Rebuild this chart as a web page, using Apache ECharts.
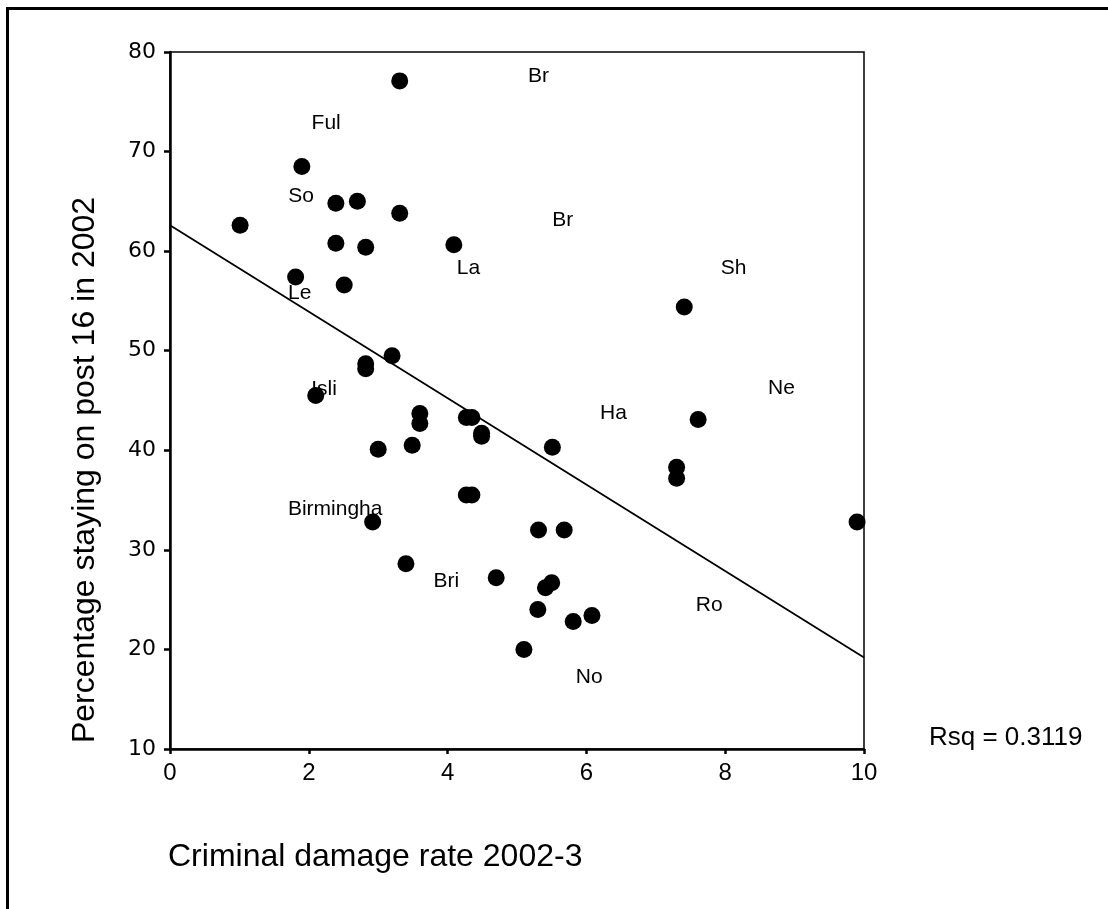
<!DOCTYPE html>
<html>
<head>
<meta charset="utf-8">
<script src="https://cdn.jsdelivr.net/npm/echarts@6/dist/echarts.min.js"></script>
<style>
html,body{margin:0;padding:0;background:#fff;}
#chart{width:1108px;height:909px;}
</style>
</head>
<body>
<div id="chart"></div>
<script>
// Criminal damage rate 2002-3 (x) vs Percentage staying on post 16 in 2002 (y)
const crimeRate = [3.31,1.90,1.01,2.39,2.70,3.31,2.39,2.82,4.09,1.81,2.51,7.41,3.20,2.82,2.82,2.10,3.60,3.60,4.27,4.35,4.49,4.49,5.51,3.00,3.49,7.61,7.30,7.30,4.27,4.35,2.92,5.31,5.68,9.90,3.40,4.70,5.41,5.50,5.30,5.10,5.81,6.08];
const stayingOn = [77.1,68.5,62.6,64.8,65.0,63.8,60.8,60.4,60.65,57.4,56.6,54.4,49.5,48.7,48.2,45.5,43.7,42.7,43.3,43.3,41.7,41.4,40.3,40.1,40.5,43.1,38.3,37.2,35.5,35.5,32.8,32.0,32.0,32.8,28.6,27.2,26.2,26.7,24.0,20.0,22.8,23.4];

// Case labels (clipped in the original)
const labelText = ["Br","Ful","So","Br","La","Le","Sh","Isli","Ha","Ne","Sund","Birmingha","Bri","Ro","No"];
const labelX = [5.31,2.25,1.89,5.66,4.30,1.87,8.12,2.22,6.39,8.81,10.01,2.38,3.98,7.77,6.04];
const labelY = [77.6,72.8,65.55,63.1,58.3,55.8,58.3,46.1,43.7,46.2,36.6,34.1,26.9,24.4,17.2];

// Linear fit line endpoints
const fitX = [0, 10];
const fitY = [62.6, 19.2];
const rsqText = "Rsq = 0.3119";

const xTicks = [0,2,4,6,8,10];
const yTicks = [10,20,30,40,50,60,70,80];

const chart = echarts.init(document.getElementById('chart'));
const font = "Liberation Sans, Arial, sans-serif";

const option = {
  animation: false,
  backgroundColor: '#fff',
  grid: { left: 170, top: 52, right: 244, bottom: 160, show: true, borderColor: '#000', borderWidth: 1.5, backgroundColor: 'transparent' },
  xAxis: {
    type: 'value', min: xTicks[0], max: xTicks[xTicks.length-1], interval: 2,
    axisLine: { onZero: false, lineStyle: { color: '#000', width: 2.5 } },
    axisTick: { show: true, length: 5, lineStyle: { color: '#000', width: 2.5 } },
    axisLabel: { color: '#000', fontSize: 24, fontFamily: font, margin: 12 },
    splitLine: { show: false }
  },
  yAxis: {
    type: 'value', min: yTicks[0], max: yTicks[yTicks.length-1], interval: 10,
    axisLine: { onZero: false, lineStyle: { color: '#000', width: 2.5 } },
    axisTick: { show: true, length: 6, lineStyle: { color: '#000', width: 2.5 } },
    axisLabel: { color: '#000', fontSize: 22, fontFamily: "DejaVu Sans, sans-serif", margin: 14 },
    splitLine: { show: false }
  },
  series: [
    {
      type: 'scatter', silent: true, z: 1,
      symbolSize: 1, itemStyle: { color: 'rgba(0,0,0,0)', opacity: 1 },
      label: { show: true, position: 'inside', formatter: p => p.name, color: '#000', opacity: 1, fontSize: 21, fontFamily: font },
      data: labelText.map((t, i) => ({ name: t, value: [labelX[i], labelY[i]] }))
    },
    {
      type: 'line', silent: true, z: 2, symbol: 'none',
      lineStyle: { color: '#000', width: 1.8 },
      data: fitX.map((x, i) => [x, fitY[i]])
    },
    {
      type: 'scatter', silent: true, z: 3,
      symbol: 'circle', symbolSize: 17, itemStyle: { color: '#000', opacity: 1 },
      data: crimeRate.map((x, i) => [x, stayingOn[i]])
    }
  ],
  graphic: [
    { type: 'rect', shape: { x: 7.5, y: 8.5, width: 1300, height: 1100 }, style: { fill: 'none', stroke: '#000', lineWidth: 3 }, silent: true },
    { type: 'text', x: 85, y: 470, rotation: Math.PI / 2,
      style: { text: 'Percentage staying on post 16 in 2002', font: '32px ' + font, fill: '#000', textAlign: 'center', textVerticalAlign: 'middle' } },
    { type: 'text', x: 168, y: 857,
      style: { text: 'Criminal damage rate 2002-3', font: '32px ' + font, fill: '#000', textAlign: 'left', textVerticalAlign: 'middle' } },
    { type: 'text', x: 929, y: 738,
      style: { text: rsqText, font: '26px ' + font, fill: '#000', textAlign: 'left', textVerticalAlign: 'middle' } }
  ]
};
chart.setOption(option);
</script>
</body>
</html>
